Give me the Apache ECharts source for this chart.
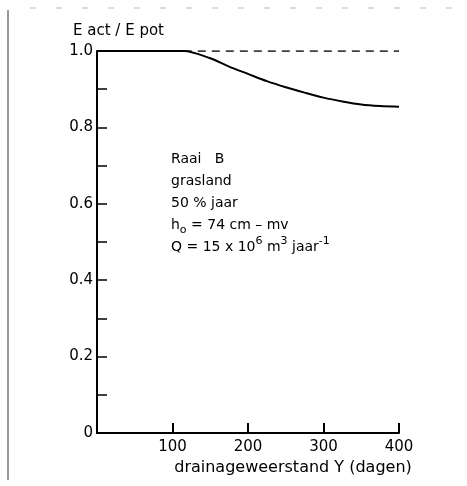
<!DOCTYPE html>
<html>
<head>
<meta charset="utf-8">
<script src="https://cdn.jsdelivr.net/npm/echarts@6/dist/echarts.min.js"></script>
<style>
  html, body { margin: 0; padding: 0; background: #fff; }
  #chart { width: 467px; height: 486px; }
</style>
</head>
<body>
<div id="chart"></div>
<script>
// drainage resistance (days) vs Eact/Epot
const weerstand = [0, 50, 100, 115, 150, 175, 200, 225, 250, 275, 300, 325, 350, 375, 400];
const eRatio = [1.0, 1.0, 1.0, 1.0, 0.981, 0.959, 0.940, 0.921, 0.905, 0.891, 0.878, 0.868, 0.860, 0.856, 0.854];
const potLine = [[115, 1.0], [400, 1.0]];
const yLabels = { 0: "0", 2: "0.2", 4: "0.4", 6: "0.6", 8: "0.8", 10: "1.0" };

const font = "DejaVu Sans";
const chart = echarts.init(document.getElementById("chart"));

chart.setOption({
  animation: false,
  textStyle: { fontFamily: font, color: "#000" },
  grid: { left: 97, top: 51, width: 302, height: 382 },
  xAxis: {
    type: "value",
    min: 0,
    max: 400,
    interval: 100,
    name: "drainageweerstand \u03a5 (dagen)",
    nameLocation: "middle",
    nameGap: 25,
    nameTextStyle: { fontFamily: font, fontSize: 16, color: "#000", padding: [0, 0, 0, 90] },
    axisLine: { lineStyle: { color: "#000", width: 2 } },
    axisTick: { inside: true, length: 10, lineStyle: { color: "#000", width: 2 } },
    axisLabel: {
      fontFamily: font, fontSize: 15, color: "#000", margin: 7,
      formatter: (v) => (v === 0 ? "" : String(v)),
    },
    splitLine: { show: false },
  },
  yAxis: {
    type: "value",
    min: 0,
    max: 1.0,
    interval: 0.1,
    name: "E act / E pot",
    nameLocation: "end",
    nameGap: 12,
    nameTextStyle: { fontFamily: font, fontSize: 15, color: "#000", align: "left", padding: [0, 0, 0, -24] },
    axisLine: { lineStyle: { color: "#000", width: 2 } },
    axisTick: { inside: true, length: 10, lineStyle: { color: "#000", width: 1.5 } },
    axisLabel: {
      fontFamily: font, fontSize: 15, color: "#000", margin: 4,
      formatter: (v) => yLabels[Math.round(v * 10)] || "",
    },
    splitLine: { show: false },
  },
  series: [
    {
      type: "line",
      data: potLine,
      symbol: "none",
      lineStyle: { color: "#000", width: 1.5, type: [8, 6] },
    },
    {
      type: "line",
      data: weerstand.map((x, i) => [x, eRatio[i]]),
      smooth: 0.3,
      symbol: "none",
      lineStyle: { color: "#000", width: 2 },
    },
  ],
  graphic: [
    { type: "line", shape: { x1: 8, y1: 10, x2: 8, y2: 480 }, style: { stroke: "#333", lineWidth: 1 } },
    { type: "line", shape: { x1: 30, y1: 8, x2: 467, y2: 8 }, style: { stroke: "#bbb", lineWidth: 1, lineDash: [6, 20] } },
    {
      type: "text",
      left: 171,
      top: 148,
      style: {
        text: [
          "Raai   B",
          "grasland",
          "50 % jaar",
          "h{sub|o} = 74 cm \u2013 mv",
          "Q = 15 x 10{sup|6} m{sup|3} jaar{sup|-1}",
        ].join("\n"),
        font: "14px " + font,
        fill: "#000",
        lineHeight: 22,
        rich: {
          sub: { fontSize: 11, fontFamily: font, fill: "#000", verticalAlign: "bottom", lineHeight: 22, padding: [6, 0, 0, 0] },
          sup: { fontSize: 11, fontFamily: font, fill: "#000", verticalAlign: "top", lineHeight: 22, padding: [0, 0, 6, 0] },
        },
      },
    },
  ],
});
</script>
</body>
</html>
